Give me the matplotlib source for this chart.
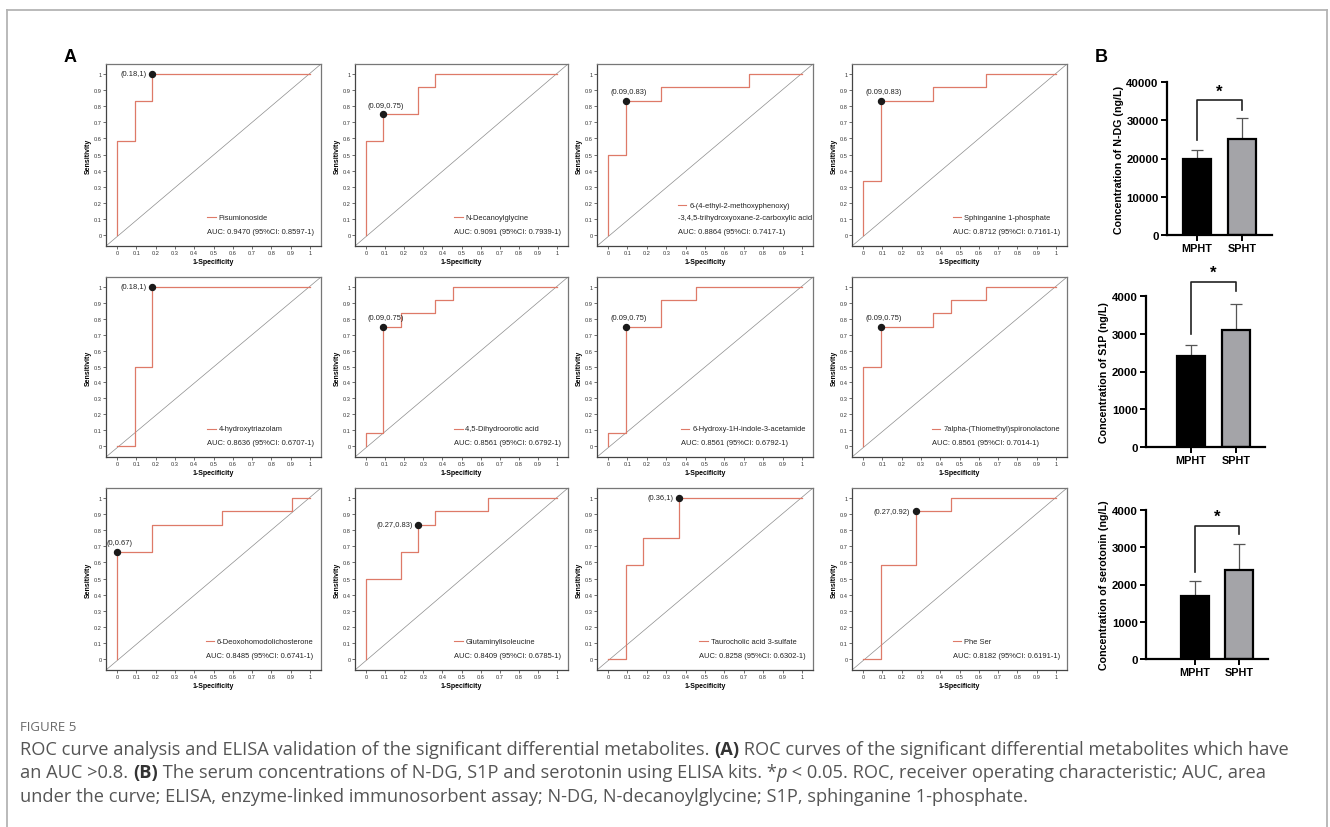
import matplotlib
matplotlib.use('Agg')
import matplotlib.pyplot as plt
from matplotlib.lines import Line2D

plt.rcParams['font.family'] = ['Liberation Sans', 'DejaVu Sans']

W, H = 1330, 828
fig = plt.figure(figsize=(W / 100, H / 100), dpi=100)

# ---------------- data: ROC curves (counts out of 11 controls / 12 cases) ----------------
n_neg = 11
n_pos = 12

names = [
    'Pisumionoside', 'N-Decanoylglycine',
    '6-(4-ethyl-2-methoxyphenoxy)\n-3,4,5-trihydroxyoxane-2-carboxylic acid',
    'Sphinganine 1-phosphate',
    '4-hydroxytriazolam', '4,5-Dihydroorotic acid', '6-Hydroxy-1H-indole-3-acetamide',
    '7alpha-(Thiomethyl)spironolactone',
    '6-Deoxohomodolichosterone', 'Glutaminylisoleucine', 'Taurocholic acid 3-sulfate', 'Phe Ser',
]
auc_texts = [
    'AUC: 0.9470 (95%CI: 0.8597-1)', 'AUC: 0.9091 (95%CI: 0.7939-1)',
    'AUC: 0.8864 (95%CI: 0.7417-1)', 'AUC: 0.8712 (95%CI: 0.7161-1)',
    'AUC: 0.8636 (95%CI: 0.6707-1)', 'AUC: 0.8561 (95%CI: 0.6792-1)',
    'AUC: 0.8561 (95%CI: 0.6792-1)', 'AUC: 0.8561 (95%CI: 0.7014-1)',
    'AUC: 0.8485 (95%CI: 0.6741-1)', 'AUC: 0.8409 (95%CI: 0.6785-1)',
    'AUC: 0.8258 (95%CI: 0.6302-1)', 'AUC: 0.8182 (95%CI: 0.6191-1)',
]
roc_fp = [
    [0, 0, 1, 1, 2, 2, 11],
    [0, 0, 1, 1, 3, 3, 4, 4, 11],
    [0, 0, 1, 1, 3, 3, 8, 8, 11],
    [0, 0, 1, 1, 4, 4, 7, 7, 11],
    [0, 1, 1, 2, 2, 11],
    [0, 0, 1, 1, 2, 2, 4, 4, 5, 5, 11],
    [0, 0, 1, 1, 3, 3, 5, 5, 11],
    [0, 0, 1, 1, 4, 4, 5, 5, 7, 7, 11],
    [0, 0, 2, 2, 6, 6, 10, 10, 11],
    [0, 0, 2, 2, 3, 3, 4, 4, 7, 7, 11],
    [0, 1, 1, 2, 2, 4, 4, 11],
    [0, 1, 1, 3, 3, 5, 5, 11],
]
roc_tp = [
    [0, 7, 7, 10, 10, 12, 12],
    [0, 7, 7, 9, 9, 11, 11, 12, 12],
    [0, 6, 6, 10, 10, 11, 11, 12, 12],
    [0, 4, 4, 10, 10, 11, 11, 12, 12],
    [0, 0, 6, 6, 12, 12],
    [0, 1, 1, 9, 9, 10, 10, 11, 11, 12, 12],
    [0, 1, 1, 9, 9, 11, 11, 12, 12],
    [0, 6, 6, 9, 9, 10, 10, 11, 11, 12, 12],
    [0, 8, 8, 10, 10, 11, 11, 12, 12],
    [0, 6, 6, 8, 8, 10, 10, 11, 11, 12, 12],
    [0, 0, 7, 7, 9, 9, 12, 12],
    [0, 0, 7, 7, 11, 11, 12, 12],
]
cut_fp = [2, 1, 1, 1, 2, 1, 1, 1, 0, 3, 4, 3]
cut_tp = [12, 9, 10, 10, 12, 9, 9, 9, 8, 10, 12, 11]
cut_labels = ['(0.18,1)', '(0.09,0.75)', '(0.09,0.83)', '(0.09,0.83)',
              '(0.18,1)', '(0.09,0.75)', '(0.09,0.75)', '(0.09,0.75)',
              '(0,0.67)', '(0.27,0.83)', '(0.36,1)', '(0.27,0.92)']
cut_side = ['left', 'up', 'up', 'up', 'left', 'up', 'up', 'up', 'up', 'left', 'left', 'left']

# ---------------- data: ELISA bars ----------------
groups = ['MPHT', 'SPHT']
bar_ylabels = ['Concentration of N-DG (ng/L)', 'Concentration of S1P (ng/L)',
               'Concentration of serotonin (ng/L)']
bar_means = [[20000, 25100], [2400, 3100], [1680, 2400]]
bar_errs = [[2200, 5400], [300, 700], [420, 680]]
bar_ymax = [40000, 4000, 4000]
bar_yticks = [[0, 10000, 20000, 30000, 40000], [0, 1000, 2000, 3000, 4000], [0, 1000, 2000, 3000, 4000]]
bracket_top = [35200, 4370, 3570]
bracket_left = [24800, 2990, 2330]
bracket_right = [32600, 4130, 3350]
star_y = [37600, 4640, 3830]


def px_axes(l, t, r, b):
    return fig.add_axes([l / W, 1 - b / H, (r - l) / W, (b - t) / H])


renderer = fig.canvas.get_renderer()
roc_red = '#de7a68'
small = 5.4

cols = [(106, 321), (355, 568), (597, 813), (852, 1067)]
rows = [(65, 247), (278, 458), (489, 671)]

for i in range(12):
    r, c = divmod(i, 4)
    ax = px_axes(cols[c][0], rows[r][0], cols[c][1], rows[r][1])
    ax.set_xlim(-0.057, 1.057)
    ax.set_ylim(-0.068, 1.062)
    ax.plot([0, 1], [0, 1], transform=ax.transAxes, color='#8c8c8c', lw=0.5)
    fpr = [v / n_neg for v in roc_fp[i]]
    tpr = [v / n_pos for v in roc_tp[i]]
    ax.plot(fpr, tpr, color=roc_red, lw=0.9)
    cx, cy = cut_fp[i] / n_neg, cut_tp[i] / n_pos
    ax.plot(cx, cy, 'o', color='#1a1a1a', ms=4.3, zorder=5)
    if cut_side[i] == 'left':
        ax.annotate(cut_labels[i], (cx, cy), xytext=(-4, 0), textcoords='offset points',
                    ha='right', va='center', fontsize=small, color='#222')
    else:
        ax.annotate(cut_labels[i], (cx, cy), xytext=(2, 4), textcoords='offset points',
                    ha='center', va='bottom', fontsize=small, color='#222')

    ticks = [k / 10 for k in range(11)]
    tlabels = ['0'] + ['0.%d' % k for k in range(1, 10)] + ['1']
    ax.set_xticks(ticks, tlabels)
    ax.set_yticks(ticks, tlabels)
    ax.tick_params(length=2, width=0.5, pad=1.2, labelsize=4.1, colors='#333')
    ax.set_xlabel('1-Specificity', fontsize=5, fontweight='bold', labelpad=1.5)
    ax.set_ylabel('Sensitivity', fontsize=5, fontweight='bold', labelpad=1.5)
    for s in ['left', 'bottom']:
        ax.spines[s].set_color('#444')
        ax.spines[s].set_linewidth(0.9)
    for s in ['top', 'right']:
        ax.spines[s].set_color('#777')
        ax.spines[s].set_linewidth(0.9)

    # legend entry + AUC text, right block edge near x = 1.02
    per_px = (1.057 + 0.057) / (cols[c][1] - cols[c][0])
    lines = names[i].split('\n')
    auc_t = ax.text(0, 0.025, auc_texts[i], fontsize=small, va='center', color='#222')
    w_auc = auc_t.get_window_extent(renderer).width * per_px
    dash = 0.045
    gap = 0.015
    if len(lines) == 1:
        lab_t = ax.text(0, 0.11, lines[0], fontsize=small, va='center', color='#222')
        w_lab = lab_t.get_window_extent(renderer).width * per_px + dash + gap
        x0 = 1.02 - max(w_auc, w_lab)
        lab_t.set_x(x0 + dash + gap)
        ax.plot([x0, x0 + dash], [0.11, 0.11], color=roc_red, lw=0.8)
    else:
        l1 = ax.text(0, 0.185, lines[0], fontsize=small, va='center', color='#222')
        l2 = ax.text(0, 0.11, lines[1], fontsize=small, va='center', color='#222')
        w1 = l1.get_window_extent(renderer).width * per_px + dash + gap
        w2 = l2.get_window_extent(renderer).width * per_px
        x0 = 1.05 - max(w_auc, w1, w2)
        l1.set_x(x0 + dash + gap)
        l2.set_x(x0)
        ax.plot([x0, x0 + dash], [0.185, 0.185], color=roc_red, lw=0.8)
    auc_t.set_x(x0)

# ---------------- ELISA bar charts ----------------
bar_boxes = [(1167, 83, 1272, 236), (1146, 297, 1265, 448), (1146, 511, 1268, 660)]
bar_centers = [(1197, 1242), (1191, 1236), (1195, 1239)]
for j in range(3):
    l, t, rr, b = bar_boxes[j]
    c0, c1 = bar_centers[j]
    ax = px_axes(l, t, rr, b)
    ax.set_xlim((l - c0) / (c1 - c0), (rr - c0) / (c1 - c0))
    ax.set_ylim(0, bar_ymax[j])
    ax.errorbar([0, 1], bar_means[j], yerr=[[0, 0], bar_errs[j]], fmt='none',
                ecolor='#555', elinewidth=0.9, capsize=4, capthick=0.9, zorder=1)
    ax.bar([0, 1], bar_means[j], width=0.63, color=['black', '#a4a4a8'],
           edgecolor='black', linewidth=1.6, zorder=2)
    ax.plot([0, 0, 1, 1], [bracket_left[j], bracket_top[j], bracket_top[j], bracket_right[j]],
            color='#222', lw=1.2, clip_on=False)
    ax.text(0.5, star_y[j], '*', ha='center', va='center', fontsize=12, fontweight='bold')
    ax.spines['top'].set_visible(False)
    ax.spines['right'].set_visible(False)
    for s in ['left', 'bottom']:
        ax.spines[s].set_linewidth(1.6)
    ax.set_yticks(bar_yticks[j], [str(v) for v in bar_yticks[j]])
    ax.set_xticks([0, 1], groups)
    ax.tick_params(length=4, width=1.4, pad=2)
    for lab in ax.get_yticklabels():
        lab.set_fontsize(8.2)
        lab.set_fontweight('bold')
    for lab in ax.get_xticklabels():
        lab.set_fontsize(7.8)
        lab.set_fontweight('bold')
    ax.set_ylabel(bar_ylabels[j], fontsize=7.7, fontweight='bold', labelpad=2)

# ---------------- panel letters ----------------
fig.text(64 / W, 1 - 58 / H, 'A', fontsize=13, fontweight='bold', va='center')
fig.text(1095 / W, 1 - 58 / H, 'B', fontsize=13, fontweight='bold', va='center')

# ---------------- frame ----------------
fc = '#b4b4b4'
fig.add_artist(Line2D([7 / W, 1327 / W], [1 - 11 / H, 1 - 11 / H], color=fc, lw=1.3))
fig.add_artist(Line2D([7 / W, 7 / W], [0, 1 - 11 / H], color=fc, lw=1.3))
fig.add_artist(Line2D([1327 / W, 1327 / W], [0, 1 - 11 / H], color=fc, lw=1.3))

# ---------------- caption ----------------
cap_font = ['Open Sans', 'DejaVu Sans']
cap_color = '#555555'
fig.text(20 / W, 1 - 731 / H, 'FIGURE 5', fontsize=9.5, color='#6a6a6a', family=cap_font,
         va='baseline')

cap_lines = [
    [('ROC curve analysis and ELISA validation of the significant differential metabolites. ', 'normal', 'normal'),
     ('(A)', 'bold', 'normal'),
     (' ROC curves of the significant differential metabolites which have', 'normal', 'normal')],
    [('an AUC >0.8. ', 'normal', 'normal'), ('(B)', 'bold', 'normal'),
     (' The serum concentrations of N-DG, S1P and serotonin using ELISA kits. *', 'normal', 'normal'),
     ('p', 'normal', 'italic'),
     (' < 0.05. ROC, receiver operating characteristic; AUC, area', 'normal', 'normal')],
    [('under the curve; ELISA, enzyme-linked immunosorbent assay; N-DG, N-decanoylglycine; S1P, sphinganine 1-phosphate.', 'normal', 'normal')],
]
cap_baselines = [755, 778, 802]


def seg_width(txt, weight, style, size):
    t1 = fig.text(0, 0, '|' + txt + '|', fontsize=size, fontweight=weight, fontstyle=style, family=cap_font)
    t2 = fig.text(0, 0, '||', fontsize=size, fontweight=weight, fontstyle=style, family=cap_font)
    w = t1.get_window_extent(renderer).width - t2.get_window_extent(renderer).width
    t1.remove()
    t2.remove()
    return w


# fit the first caption line to its width in the picture
ref_size = 10
w_ref = sum(seg_width(s, wgt, sty, ref_size) for s, wgt, sty in cap_lines[0])
cap_size = ref_size * (1290 - 20) / w_ref

for segs, yb in zip(cap_lines, cap_baselines):
    x = 20
    for txt, wgt, sty in segs:
        fig.text(x / W, 1 - yb / H, txt, fontsize=cap_size, fontweight=wgt, fontstyle=sty,
                 family=cap_font, color=cap_color if wgt == 'normal' else '#333', va='baseline')
        x += seg_width(txt, wgt, sty, cap_size)

fig.savefig('out.png', dpi=100)
